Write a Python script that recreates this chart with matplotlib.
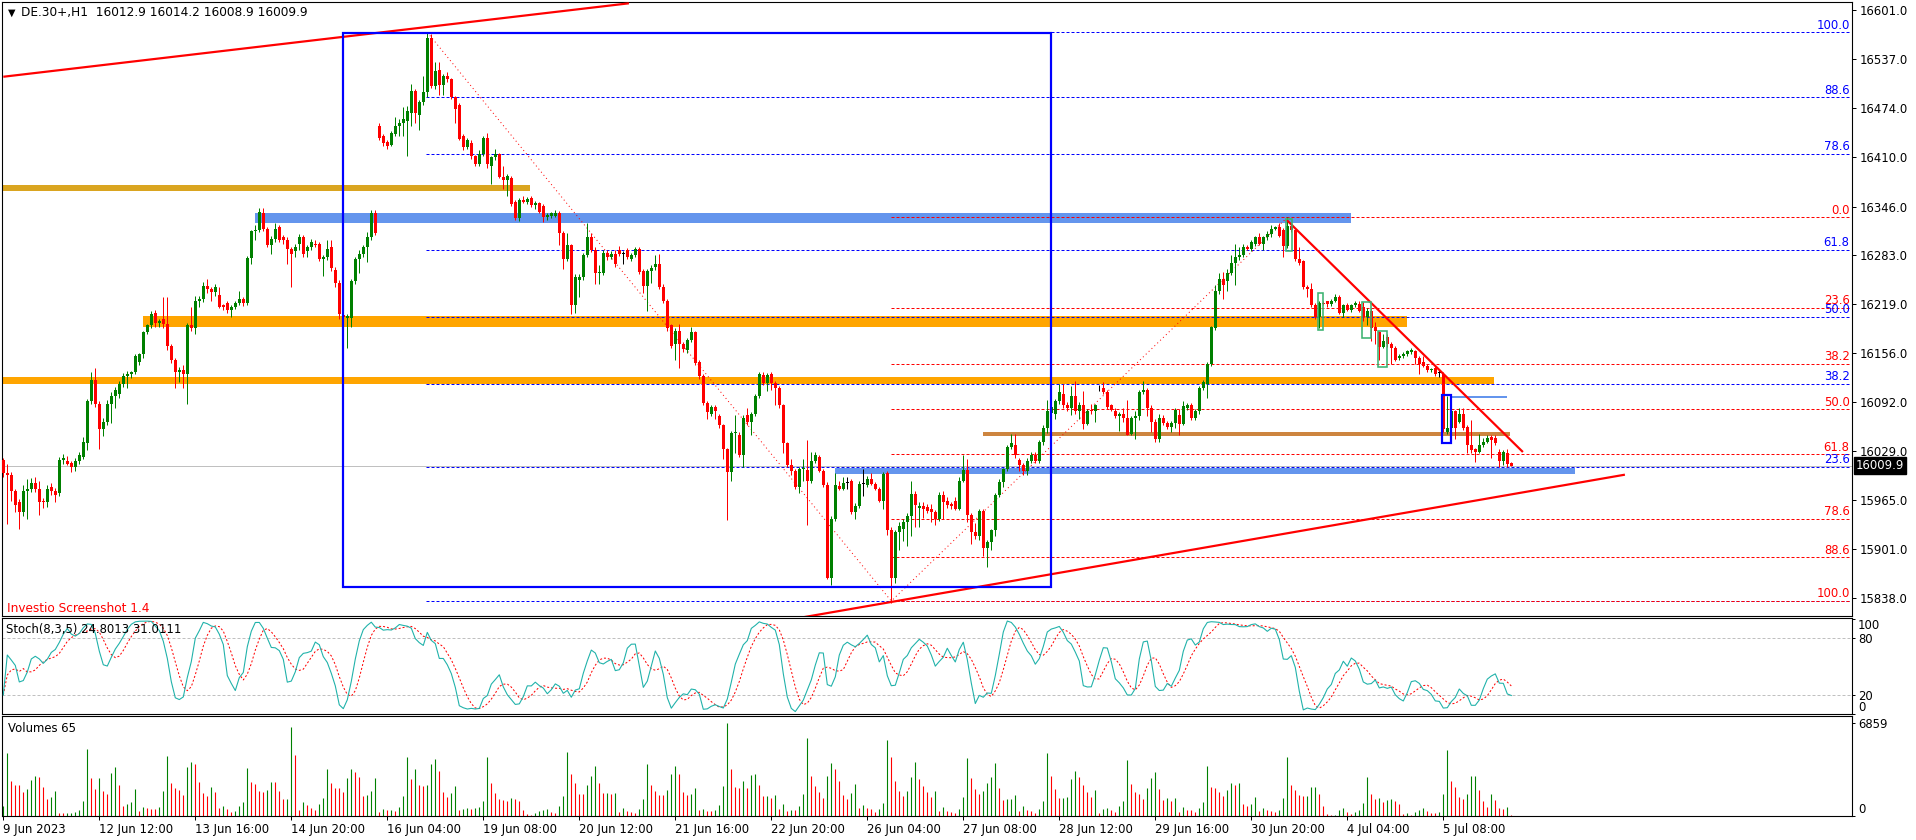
import numpy as np
import matplotlib
matplotlib.use("Agg")
import matplotlib.pyplot as plt
from matplotlib.patches import Rectangle
import matplotlib.transforms as mtrans

plt.rcParams['font.family'] = ['DejaVu Sans']

# ---------------- DATA (DE.30+, H1) ----------------
opens = [
16017,16000,15998,15977,15962,15949,15977,15980,15987,15980,
15964,15962,15982,15977,15974,16017,16016,16013,16008,16016,
16021,16039,16093,16121,16090,16057,16067,16090,16100,16103,
16116,16126,16129,16131,16144,16154,16183,16192,16208,16195,
16200,16193,16165,16147,16131,16134,16129,16192,16188,16224,
16226,16243,16239,16235,16231,16218,16221,16212,16216,16221,
16226,16221,16279,16314,16316,16337,16317,16296,16304,16319,
16306,16303,16291,16288,16298,16306,16288,16293,16298,16297,
16278,16280,16293,16264,16247,16205,16201,16201,16249,16278,
16285,16293,16306,16337,16450,16437,16430,16426,16440,16451,
16455,16457,16468,16496,16465,16481,16495,16565,16502,16523,
16504,16516,16511,16488,16478,16437,16423,16429,16411,16401,
16414,16435,16399,16410,16414,16384,16380,16383,16352,16331,
16355,16352,16357,16348,16350,16347,16332,16334,16334,16338,
16311,16278,16296,16218,16250,16255,16283,16307,16290,16260,
16260,16286,16281,16285,16289,16285,16289,16278,16283,16291,
16262,16243,16262,16267,16271,16242,16224,16192,16167,16185,
16167,16160,16173,16183,16144,16126,16091,16077,16086,16074,
16062,16031,16002,16052,16050,16023,16075,16066,16077,16100,
16127,16117,16129,16117,16111,16088,16039,16011,16003,15982,
16005,16004,15990,16016,16021,16003,15985,15864,15941,15983,
15980,15987,15990,15949,15957,15986,15985,15993,15986,15980,
15964,16000,15926,15864,15923,15928,15936,15944,15973,15955,
15957,15956,15954,15949,15941,15972,15964,15960,15964,15954,
15990,16004,15946,15923,15918,15951,15903,15911,15926,15972,
15988,16005,16034,16036,16017,16011,16003,16016,16024,16016,
16040,16059,16078,16077,16093,16103,16089,16085,16100,16080,
16089,16064,16082,16080,16110,16110,16105,16088,16080,16074,
16077,16072,16051,16072,16074,16105,16108,16085,16067,16044,
16072,16065,16060,16065,16075,16064,16085,16089,16072,16080,
16111,16116,16141,16188,16237,16252,16249,16260,16273,16280,
16283,16293,16291,16298,16307,16298,16306,16310,16317,16319,
16316,16295,16321,16315,16278,16275,16242,16239,16218,16203,
16221,16223,16220,16224,16228,16208,16218,16212,16218,16220,
16215,16203,16211,16190,16183,16164,16177,16168,16163,16149,
16152,16154,16157,16158,16149,16144,16139,16134,16136,16130,
16129,16054,16059,16080,16067,16077,16060,16036,16031,16028,
16036,16041,16047,16045,16028,16016,16026,16012.9]

highs = [
16020,16012,16002,15980,15966,15984,15993,15994,15995,15990,
15968,15984,15987,15981,16021,16025,16022,16016,16019,16028,
16047,16096,16131,16136,16093,16072,16095,16105,16112,16120,
16130,16133,16133,16154,16156,16185,16194,16210,16212,16200,
16229,16229,16168,16150,16138,16140,16195,16216,16230,16230,
16248,16252,16242,16246,16242,16220,16224,16218,16224,16236,
16229,16282,16316,16322,16344,16344,16320,16308,16325,16322,
16309,16306,16294,16297,16310,16309,16296,16304,16302,16300,
16283,16302,16303,16268,16250,16210,16206,16252,16280,16290,
16296,16313,16342,16342,16454,16440,16432,16444,16462,16460,
16475,16476,16505,16498,16484,16515,16571,16570,16534,16534,
16518,16520,16513,16490,16480,16440,16435,16432,16413,16419,
16437,16442,16412,16421,16416,16398,16388,16386,16355,16357,
16360,16358,16359,16353,16352,16349,16337,16339,16342,16340,
16314,16311,16298,16258,16258,16286,16325,16311,16293,16270,
16290,16290,16288,16290,16295,16288,16292,16286,16294,16294,
16265,16265,16270,16283,16285,16245,16226,16194,16188,16193,
16170,16176,16190,16185,16147,16128,16094,16089,16088,16077,
16064,16033,16055,16076,16053,16075,16085,16079,16103,16131,
16131,16130,16131,16119,16113,16090,16041,16018,16005,16008,
16018,16043,16028,16028,16023,16005,15988,15945,16000,15990,
15995,15995,15992,15961,15990,16006,15996,16000,15988,15982,
16001,16003,15930,15926,15936,15940,15948,15990,15977,15962,
15962,15960,15960,15952,15976,15977,15969,15963,15969,15995,
16024,16018,15948,15935,15954,15953,15913,15928,15974,15992,
16007,16036,16051,16051,16020,16013,16019,16028,16027,16043,
16062,16095,16088,16096,16116,16116,16092,16113,16120,16092,
16106,16083,16090,16090,16115,16118,16108,16090,16085,16079,
16085,16095,16074,16080,16108,16120,16110,16088,16070,16077,
16076,16068,16068,16085,16083,16093,16091,16091,16083,16113,
16121,16144,16191,16244,16260,16261,16265,16283,16298,16293,
16297,16296,16303,16308,16311,16308,16314,16322,16321,16324,
16318,16332,16324,16316,16293,16277,16244,16247,16221,16224,
16223,16224,16226,16232,16231,16220,16221,16220,16224,16223,
16222,16214,16214,16196,16185,16180,16180,16170,16165,16154,
16157,16160,16162,16160,16152,16152,16141,16136,16139,16134,
16131,16100,16085,16082,16085,16085,16062,16069,16033,16051,
16046,16050,16049,16049,16031,16030,16031,16014.2]

lows = [
15995,15934,15964,15949,15928,15945,15941,15975,15975,15946,
15955,15956,15972,15962,15970,16012,16010,16001,16003,16012,
16018,16030,16090,16086,16031,16048,16062,16065,16085,16098,
16112,16110,16124,16128,16140,16150,16180,16188,16190,16190,
16188,16160,16143,16110,16118,16111,16090,16184,16180,16215,
16222,16234,16224,16230,16214,16212,16208,16203,16213,16218,
16217,16218,16272,16303,16313,16314,16293,16285,16300,16300,
16298,16272,16241,16280,16290,16281,16280,16290,16293,16275,
16256,16276,16262,16242,16200,16198,16162,16190,16245,16260,
16280,16274,16302,16309,16432,16425,16421,16424,16438,16437,
16437,16411,16450,16455,16445,16478,16488,16500,16498,16491,
16491,16508,16486,16455,16432,16419,16420,16408,16399,16399,
16411,16396,16375,16406,16383,16369,16360,16347,16329,16327,
16350,16349,16346,16343,16337,16326,16329,16331,16332,16296,
16265,16275,16206,16208,16229,16251,16280,16287,16246,16246,
16257,16277,16278,16268,16282,16272,16278,16275,16280,16258,
16234,16211,16247,16264,16239,16221,16185,16162,16147,16137,
16157,16156,16170,16140,16122,16088,16070,16074,16070,16059,
16018,15939,15990,16026,16021,16008,16063,16049,16074,16098,
16114,16106,16108,16088,16085,16026,16008,15998,15980,15974,
15990,15933,15987,16013,16001,15982,15862,15855,15938,15978,
15978,15980,15947,15941,15955,15970,15982,15984,15978,15962,
15954,15920,15831,15858,15900,15912,15905,15918,15930,15930,
15942,15948,15936,15933,15938,15940,15955,15954,15952,15952,
15988,15936,15908,15915,15913,15892,15878,15900,15918,15969,
15982,16003,16031,16020,16003,15998,15998,16013,16013,16013,
16037,16052,16074,16070,16090,16085,16080,16075,16077,16070,
16057,16062,16077,16067,16106,16103,16083,16080,16072,16055,
16067,16049,16049,16044,16069,16103,16074,16054,16041,16040,
16062,16057,16054,16059,16050,16062,16082,16069,16069,16077,
16108,16098,16139,16186,16233,16226,16237,16257,16244,16277,
16280,16290,16288,16295,16296,16290,16303,16307,16315,16306,
16280,16292,16313,16275,16270,16239,16229,16215,16200,16188,
16218,16216,16217,16222,16206,16203,16210,16209,16216,16209,
16198,16192,16172,16167,16147,16162,16164,16142,16146,16147,
16150,16152,16155,16141,16129,16138,16131,16131,16126,16125,
16054,16051,16056,16044,16065,16056,16026,16026,16015,16026,
16034,16039,16020,16036,16008,16010,16008,16008.9]

closes = [
16000,15998,15977,15959,15949,15977,15980,15987,15980,15962,
15962,15980,15977,15972,16017,16019,16012,16008,16016,16023,
16041,16093,16121,16090,16057,16067,16090,16100,16108,16116,
16126,16129,16131,16152,16154,16183,16192,16207,16195,16197,
16193,16165,16147,16131,16134,16129,16192,16188,16224,16226,
16243,16239,16235,16242,16216,16216,16212,16216,16221,16226,
16221,16279,16314,16316,16339,16317,16296,16304,16317,16303,
16303,16291,16285,16293,16306,16285,16293,16300,16296,16278,
16280,16291,16266,16247,16206,16202,16204,16249,16278,16285,
16293,16306,16337,16311,16435,16428,16425,16442,16451,16455,
16459,16470,16496,16468,16481,16495,16565,16502,16522,16504,
16516,16511,16488,16473,16434,16423,16432,16411,16401,16414,
16435,16401,16410,16414,16384,16380,16385,16349,16331,16355,
16352,16356,16348,16351,16339,16332,16335,16337,16338,16311,
16278,16296,16218,16255,16255,16283,16307,16290,16260,16261,
16286,16280,16285,16272,16285,16285,16281,16283,16291,16261,
16243,16262,16266,16271,16242,16224,16188,16165,16185,16167,
16161,16173,16183,16143,16126,16091,16079,16086,16080,16062,
16031,16002,16052,16053,16023,16072,16066,16077,16100,16129,
16117,16127,16117,16111,16088,16039,16011,16003,15982,16005,
16007,15990,16016,16023,16003,15985,15864,15941,15985,15980,
15987,15987,15949,15957,15986,15986,15993,15986,15980,15964,
15999,15926,15864,15923,15931,15936,15944,15973,15959,15957,
15954,15951,15949,15941,15972,15962,15959,15957,15954,15990,
16004,15946,15923,15918,15951,15903,15911,15926,15972,15988,
16005,16034,16039,16023,16011,16003,16016,16024,16016,16040,
16059,16080,16086,16093,16105,16088,16085,16100,16080,16089,
16064,16081,16080,16088,16110,16105,16086,16082,16074,16077,
16071,16050,16072,16074,16105,16108,16085,16067,16044,16072,
16065,16060,16065,16082,16064,16087,16089,16072,16080,16111,
16118,16141,16189,16237,16252,16244,16260,16273,16280,16283,
16293,16291,16300,16307,16298,16306,16310,16317,16319,16308,
16295,16321,16315,16278,16273,16242,16239,16218,16203,16221,
16220,16220,16224,16228,16208,16218,16212,16218,16221,16211,
16203,16211,16188,16185,16164,16172,16167,16163,16147,16152,
16154,16158,16160,16149,16141,16139,16134,16135,16129,16130,
16057,16059,16080,16059,16077,16058,16036,16030,16028,16036,
16041,16045,16043,16039,16016,16027,16012,16009.9]

volumes = [
735,4655,2573,2279,2279,1764,1985,2646,2940,2867,
2132,1250,1397,1838,220,196,220,245,294,441,
1103,4925,2793,1985,2793,1838,1617,3161,3602,2279,
735,882,1029,1985,368,662,588,515,515,662,
1838,4410,2426,2058,1911,1544,3602,3969,3822,2499,
1691,1470,2132,1764,588,735,515,294,368,735,
1029,3528,2499,2352,1838,1764,1911,2499,2499,1838,
1250,1274,6542,4484,441,1029,809,588,441,882,
1323,3455,2426,2058,2058,1764,2793,3455,3234,2867,
1470,1544,1838,2793,294,515,441,466,368,662,
1470,4337,2720,3455,2279,2205,2279,3822,4190,3308,
1764,1397,1691,2205,441,515,588,515,588,662,
1103,4337,2426,1691,1250,1176,
1103,1323,1250,1103,441,147,74,220,368,441,
515,294,220,735,1470,4704,3087,2426,1617,1617,
2279,2940,3675,2426,1691,1715,1617,1691,294,588,
368,294,220,515,1250,3822,2279,1838,1544,1544,
1911,3087,3675,3087,1764,1544,1617,2058,441,515,
368,368,441,809,2205,6859,3455,2132,2058,2573,
2058,3014,3087,2279,1470,1495,1323,1544,515,882,
368,441,417,735,1617,5733,2940,2205,1764,1323,
2940,3896,3455,2573,1544,1250,1691,2352,588,809,
588,515,294,515,956,5586,4337,2573,1838,1470,
1838,2867,3969,2720,2205,1764,1397,1838,368,662,
368,294,220,515,1397,4263,2793,1985,1617,1838,
2426,2867,3896,2058,1176,1250,1274,1544,
368,735,441,368,220,515,1103,4631,2940,1985,
1323,1348,1372,2720,3308,2867,2279,1764,1397,1911,
220,515,588,441,294,735,1103,4116,2352,1764,
1617,1250,2058,2793,3234,1985,1176,1323,1103,1323,
294,662,441,441,294,588,1029,3675,2132,2058,
1764,1470,1911,2426,2279,2426,882,735,882,1397,
368,588,441,368,294,441,1323,4337,2279,1911,
1544,1470,1495,2132,2156,1617,735,147,74,98,
441,588,294,147,294,441,956,2867,1617,1250,
1323,1029,1176,1250,1103,882,147,220,74,294,
441,588,368,220,220,294,1617,4851,2573,2132,
1397,1250,1617,2940,2965,1911,1103,662,1617,1176,
588,515,662,65]

price_ticks = [16601.0, 16537.0, 16474.0, 16410.0, 16346.0, 16283.0, 16219.0,
               16156.0, 16092.0, 16029.0, 15965.0, 15901.0, 15838.0]
time_labels = ["9 Jun 2023", "12 Jun 12:00", "13 Jun 16:00", "14 Jun 20:00",
               "16 Jun 04:00", "19 Jun 08:00", "20 Jun 12:00", "21 Jun 16:00",
               "22 Jun 20:00", "26 Jun 04:00", "27 Jun 08:00", "28 Jun 12:00",
               "29 Jun 16:00", "30 Jun 20:00", "4 Jul 04:00", "5 Jul 08:00"]
bars_per_label = 24
last_price = 16009.9

fib_levels = [0.0, 23.6, 38.2, 50.0, 61.8, 78.6, 88.6, 100.0]
fib_blue = dict(low=15834, high=16572, start=105.7, color='#0000FF', bar_hi=106, bar_lo=222)
fib_red = dict(low=15834, high=16332, start=221.9, color='#FF0000', bar_hi=321, bar_lo=222)

# horizontal zones: (price low, price high, bar start, bar end, colour)
zones = [
    (16366.5, 16374.0, -1, 131.7, '#DAA520'),
    (16325.0, 16337.0, 62.9, 336.9, '#6495ED'),
    (16190.0, 16203.6, 34.9, 350.9, '#FFA500'),
    (16116.0, 16125.0, -1, 372.7, '#FFA500'),
    (16048.0, 16053.0, 244.9, 376.7, '#CD853F'),
    (15999.0, 16006.6, 207.9, 392.9, '#6495ED'),
    (16097.7, 16099.6, 361.7, 375.9, '#6495ED'),
    (16107.5, 16108.5, 27.2, 30.9, '#FFA500'),
]
# trend lines: (bar0, price0, bar1, price1)
trend_lines = [
    (0.0, 16514.4, 156.4, 16609.7),
    (195.0, 15808.5, 405.4, 15998.0),
    (320.85, 16328.5, 379.9, 16027.4),
]
# outlined boxes: (bar0, bar1, price lo, price hi, colour, width px)
boxes = [
    (84.8, 261.9, 15852.0, 16571.5, '#0000FF', 2.2),
    (320.6, 322.1, 16288.3, 16329.8, '#3CB371', 1.6),
    (328.7, 329.9, 16185.7, 16233.8, '#3CB371', 1.6),
    (339.7, 341.9, 16176.0, 16222.7, '#3CB371', 1.6),
    (343.7, 345.9, 16137.7, 16184.4, '#3CB371', 1.6),
    (359.7, 361.9, 16038.8, 16102.0, '#0000FF', 2.2),
]

# ---------------- FIGURE ----------------
W, H = 1916, 840
DPI = 100
PX = 72.0 / DPI  # one pixel in points
fig = plt.figure(figsize=(W / DPI, H / DPI), dpi=DPI, facecolor='white')


def rect(x0, y0, x1, y1):
    return [x0 / W, 1 - y1 / H, (x1 - x0) / W, (y1 - y0) / H]


ax = fig.add_axes(rect(2, 2, 1852, 616))
axs = fig.add_axes(rect(2, 618, 1852, 714))
axv = fig.add_axes(rect(2, 716, 1852, 816))

O = np.array(opens, float)
Hh = np.array(highs, float)
L = np.array(lows, float)
C = np.array(closes, float)
V = np.array(volumes, float)
n = len(C)
x = np.arange(n)

xlim = ((2 - 3.3) / 4, (1852 - 3.3) / 4)
for a in (ax, axs, axv):
    a.set_xlim(*xlim)
    a.set_facecolor('white')
    for s in a.spines.values():
        s.set_color('black')
        s.set_linewidth(1.1 * PX)

ax.set_ylim(15814.6, 16611.4)
axs.set_ylim(-0.1, 101.2)
axv.set_ylim(0, 7351)

FS = 8.4
GREEN = '#008000'
RED = '#FF0000'

# zones (behind candles)
for lo, hi, b0, b1, col in zones:
    ax.add_patch(Rectangle((b0, lo), b1 - b0, hi - lo, facecolor=col,
                           edgecolor='none', zorder=1))

# fib levels
for fib in (fib_blue, fib_red):
    rng = fib['high'] - fib['low']
    for lev in fib_levels:
        if fib is fib_blue:
            p = fib['low'] + rng * lev / 100.0
        else:
            p = fib['high'] - rng * lev / 100.0
        ax.plot([fib['start'], xlim[1] - 0.5], [p, p], color=fib['color'],
                lw=1.0 * PX, ls=(0, (3, 2)), zorder=1.5)
        if fib is fib_blue and lev == 0.0:
            continue
        ax.text(xlim[1] - 0.6, p + 0.8, f"{lev:.1f}", color=fib['color'],
                ha='right', va='bottom', fontsize=FS, zorder=6)
    ax.plot([fib['bar_hi'], fib['bar_lo']], [fib['high'], fib['low']],
            color=RED, lw=1.0 * PX, ls=(0, (1, 3)), zorder=1.6)

# current price line
ax.axhline(last_price, color='#C0C0C0', lw=1.0 * PX, zorder=1.8)

# candles
cols = np.where(C > O, GREEN, np.where(C < O, RED, 'black'))
ax.vlines(x, L, Hh, colors=cols, lw=1.0 * PX, zorder=3)
body = np.maximum(np.abs(C - O), 1.1)
ax.bar(x, body, bottom=np.minimum(O, C), width=0.72, color=cols,
       edgecolor='none', linewidth=0, zorder=4)

# trend lines and boxes
for b0, p0, b1, p1 in trend_lines:
    ax.plot([b0, b1], [p0, p1], color=RED, lw=2.2 * PX, zorder=5,
            solid_capstyle='butt')
for b0, b1, lo, hi, col, wpx in boxes:
    ax.add_patch(Rectangle((b0, lo), b1 - b0, hi - lo, facecolor='none',
                           edgecolor=col, lw=wpx * PX, zorder=5))

# price axis
ax.set_yticks(price_ticks)
ax.set_yticklabels([f"{t:.1f}" for t in price_ticks])
ax.set_xticks([])
ax.tick_params(axis='y', left=False, right=True, labelleft=False,
               labelright=True, direction='out', length=4 * PX,
               width=1.0 * PX, labelsize=FS, pad=2.5)

tr = mtrans.offset_copy(mtrans.blended_transform_factory(ax.transAxes, ax.transData),
                        fig=fig, x=4, y=0, units='dots')
ax.text(1.0, last_price, f"{last_price:.1f}", transform=tr, ha='left',
        va='center', color='white', fontsize=FS, zorder=10, clip_on=False,
        bbox=dict(boxstyle='square,pad=0.15', facecolor='black', edgecolor='black'))

# texts
fig.text(8 / W, 1 - 12.5 / H, "\u25BC", fontsize=7, va='center', ha='left')
fig.text(21 / W, 1 - 12.5 / H, "DE.30+,H1  16012.9 16014.2 16008.9 16009.9",
         fontsize=FS + 0.3, va='center', ha='left')
fig.text(7 / W, 1 - 609 / H, "Investio Screenshot 1.4", color=RED,
         fontsize=FS + 0.3, va='center', ha='left')

# ---------------- STOCHASTIC (8,3,5) ----------------
kper, slow, dper = 8, 3, 5
ll = np.array([L[max(0, i - kper + 1):i + 1].min() for i in range(n)])
hh = np.array([Hh[max(0, i - kper + 1):i + 1].max() for i in range(n)])
num = C - ll
den = hh - ll
k_main = np.array([100.0 * num[max(0, i - slow + 1):i + 1].sum() /
                   max(den[max(0, i - slow + 1):i + 1].sum(), 1e-9) for i in range(n)])
k_sig = np.array([k_main[max(0, i - dper + 1):i + 1].mean() for i in range(n)])

for lvl in (20, 80):
    axs.axhline(lvl, color='#C0C0C0', lw=1.0 * PX, ls=(0, (3, 2)), zorder=1)
axs.plot(x, k_sig, color=RED, lw=1.0 * PX, ls=(0, (2, 2)), zorder=2)
axs.plot(x, k_main, color='#20B2AA', lw=1.1 * PX, zorder=3)
axs.set_xticks([])
axs.set_yticks([0, 20, 80, 100])
axs.set_yticklabels(['0', '20', '80', '100'])
axs.tick_params(axis='y', left=False, right=True, labelleft=False,
                labelright=True, direction='out', length=3 * PX,
                width=1.0 * PX, labelsize=FS, pad=2)
for lab in axs.get_yticklabels():
    if lab.get_text() == '100':
        lab.set_va('top')
    elif lab.get_text() == '0':
        lab.set_va('bottom')
axs.text(0.002, 0.88, "Stoch(8,3,5) 24.8013 31.0111", transform=axs.transAxes,
         fontsize=FS, va='center', ha='left')

# ---------------- VOLUMES ----------------
vcols = [GREEN] + [GREEN if V[i] > V[i - 1] else RED for i in range(1, n)]
axv.vlines(x, 0, V, colors=vcols, lw=1.1 * PX, zorder=2)
axv.set_yticks([0, 6859])
axv.set_yticklabels(['0', '6859'])
axv.tick_params(axis='y', left=False, right=True, labelleft=False,
                labelright=True, direction='out', length=3 * PX,
                width=1.0 * PX, labelsize=FS, pad=2)
for lab in axv.get_yticklabels():
    if lab.get_text() == '0':
        lab.set_va('bottom')
axv.text(0.003, 0.88, "Volumes 65", transform=axv.transAxes,
         fontsize=FS, va='center', ha='left')

tick_pos = [i * bars_per_label for i in range(len(time_labels))]
axv.set_xticks(tick_pos)
axv.set_xticklabels(time_labels)
axv.tick_params(axis='x', direction='out', length=4 * PX, width=1.0 * PX,
                labelsize=FS, pad=2)
for lab in axv.get_xticklabels():
    lab.set_ha('left')

fig.savefig("out.png", dpi=DPI, facecolor='white')
